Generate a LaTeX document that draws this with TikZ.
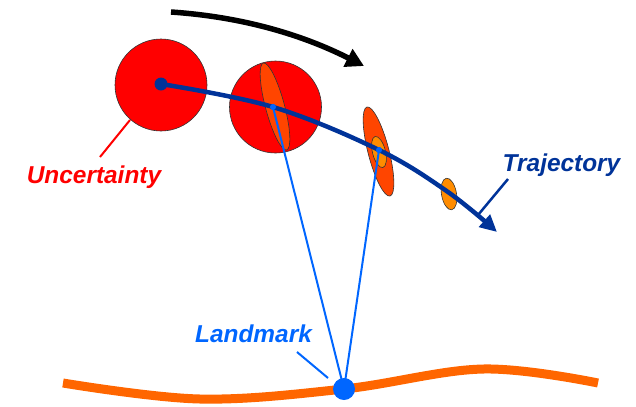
\documentclass[tikz,border=0pt]{standalone}
\usepackage{fontspec}
\setmainfont{Liberation Sans}
\usetikzlibrary{arrows.meta}
\definecolor{navy}{RGB}{0,51,153}
\definecolor{lmblue}{RGB}{0,102,255}
\definecolor{ored}{RGB}{255,69,0}
\definecolor{dorange}{RGB}{255,140,0}
\definecolor{ground}{RGB}{255,102,0}
\definecolor{myred}{RGB}{255,0,0}
\tikzset{
  bigcirc/.style={circle, draw=black!80, line width=0.6bp, fill=myred, minimum size=92bp, inner sep=0pt},
  ell/.style={draw=black!80, line width=0.6bp},
  lbl/.style={font=\fontsize{24.5}{24.5}\selectfont\bfseries\itshape, inner sep=0pt, anchor=base},
  dot/.style={circle, fill=lmblue, inner sep=0pt, minimum size=6bp},
}
\begin{document}
\begin{tikzpicture}[x=1bp,y=-1bp]
\useasboundingbox (0,0) rectangle (636,406);
% ground
\coordinate (g0) at (63,383);
\coordinate (g1) at (200,399);
\coordinate (g2) at (344,389);
\coordinate (g3) at (483,369);
\coordinate (g4) at (598,383);
\draw[ground, line width=9bp] plot[smooth, tension=0.6] coordinates {(g0) (g1) (g2) (g3) (g4)};
% circles
\node[bigcirc] (c1) at (161,85) {};
\node[bigcirc] (c2) at (275.5,107) {};
% ellipses
\draw[ell, fill=ored, rotate around={15:(275,106.5)}] (275,106.5) ellipse [x radius=9.5, y radius=45];
\draw[ell, fill=ored, rotate around={14.5:(378.5,151.5)}] (378.5,151.5) ellipse [x radius=10.5, y radius=46];
\draw[ell, fill=dorange, rotate around={14:(379,152)}] (379,152) ellipse [x radius=6.5, y radius=16];
\draw[ell, fill=dorange, rotate around={10:(449,194)}] (449,194) ellipse [x radius=7.5, y radius=16];
% dots
\node[dot] (d2) at (273,107) {};
\node[dot] (d3) at (379,150) {};
\node[circle, fill=lmblue, inner sep=0pt, minimum size=22bp] (lm) at (g2) {};
% sight lines
\draw[lmblue, line width=2bp] (lm.center) -- (d2.center);
\draw[lmblue, line width=2bp] (lm.center) -- (d3.center);
% trajectory
\coordinate (t0) at (161,84);
\coordinate (t4) at (448,192);
\coordinate (t5) at (497,232);
\draw[navy, line width=4.5bp, -{Triangle[length=17bp,width=16bp]}] plot[smooth, tension=0.6] coordinates {(t0) (d2.center) (d3.center) (t4) (t5)};
\node[circle, fill=navy, inner sep=0pt, minimum size=13bp] (d1) at (t0) {};
\node[dot] at (d2) {};
\node[dot] at (d3) {};
% motion arrow
\coordinate (m0) at (171,12);
\coordinate (m1) at (364,66);
\draw[black, line width=5.5bp, -{Triangle[length=18bp,width=19bp]}] (m0) .. controls (245,17) and (305,36) .. (m1);
% labels
\node[lbl, text=myred] (unc) at (94,183) {Uncertainty};
\coordinate (u1) at (100,157);
\coordinate (u2) at (130,120);
\draw[myred, line width=2bp] (u1) -- (u2);
\node[lbl, text=navy] (traj) at (561.5,171) {Trajectory};
\coordinate (tr1) at (508,179);
\coordinate (tr2) at (478,215);
\draw[navy, line width=2.5bp] (tr1) -- (tr2);
\node[lbl, text=lmblue] (lmk) at (253.5,342) {Landmark};
\coordinate (l1) at (297,352);
\coordinate (l2) at (328,378);
\draw[lmblue, line width=2bp] (l1) -- (l2);
\end{tikzpicture}
\end{document}
